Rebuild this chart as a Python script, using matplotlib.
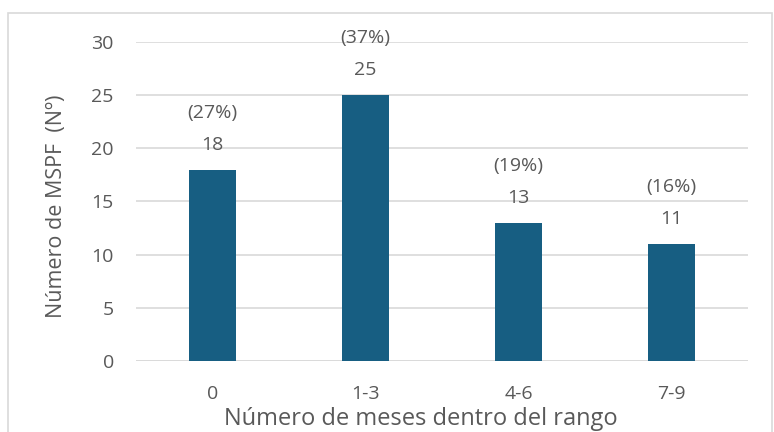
import matplotlib.pyplot as plt
from matplotlib.patches import Rectangle

plt.rcParams['font.family'] = ['Open Sans', 'DejaVu Sans']

categories = ["0", "1-3", "4-6", "7-9"]
counts = [18, 25, 13, 11]
percents = ["(27%)", "(37%)", "(19%)", "(16%)"]

bar_color = "#175e82"
text_color = "#595959"
grid_color = "#d9d9d9"

fig = plt.figure(figsize=(7.74, 4.32), dpi=100)
ax = fig.add_axes([0.1757, 0.1644, 0.7907, 0.7384])

x = range(len(categories))
bars = ax.bar(x, counts, width=0.31, color=bar_color, zorder=3)

ax.set_xlim(-0.5, 3.5)
ax.set_ylim(0, 30)
ax.set_yticks(range(0, 31, 5))
ax.set_xticks(list(x))
ax.set_xticklabels(categories)
ax.grid(axis="y", color=grid_color, linewidth=1.2, zorder=0)
ax.tick_params(length=0, labelsize=14, colors=text_color, pad=17)
ax.tick_params(axis="y", pad=16)
for s in ax.spines.values():
    s.set_visible(False)
ax.axhline(0, color=grid_color, linewidth=1.2, zorder=2)

# etiquetas sobre las barras
for xi, c, p in zip(x, counts, percents):
    ax.annotate(str(c), (xi, c), xytext=(0, 18), textcoords="offset points",
                ha="center", va="center", fontsize=14, color=text_color)
    ax.annotate(p, (xi, c), xytext=(0, 41), textcoords="offset points",
                ha="center", va="center", fontsize=14, color=text_color)

ax.set_xlabel("Número de meses dentro del rango", fontsize=17, color=text_color)
ax.set_ylabel("Número de MSPF  (Nº)", fontsize=15.5, color=text_color)
ax.xaxis.set_label_coords(0.466, -0.145)
ax.yaxis.set_label_coords(-0.113, 0.486)

# marco del gráfico
fig.patches.append(Rectangle((8 / 774, -0.01), 764 / 774, 1 - 13 / 432 + 0.01,
                             transform=fig.transFigure, fill=False,
                             edgecolor=grid_color, linewidth=1.2))

fig.savefig("out.png", dpi=100)
